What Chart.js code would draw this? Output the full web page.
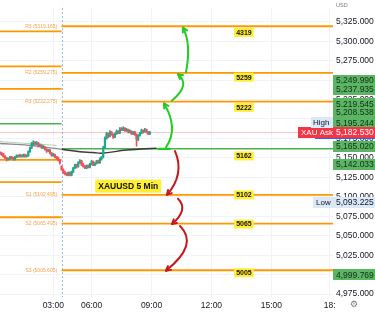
<!DOCTYPE html>
<html><head><meta charset="utf-8">
<script src="https://cdn.jsdelivr.net/npm/chart.js@4.4.1/dist/chart.umd.min.js"></script>
<style>html,body{margin:0;padding:0;background:#fff;}#wrap{width:375px;height:314px;position:relative;}</style>
</head><body><div id="wrap"><canvas id="c" width="375" height="314"></canvas></div>
<script>
// ---- data (5-min bars, index 0..90) ----
const opens  = [5157,5156,5155,5152,5150,5148,5149,5151,5150,5148,5151,5153,5152,5153,5152,5154,5152,5153,5158,5163,5168,5170,5168,5169,5165,5166,5163,5164,5161,5159,5160,5156,5153,5154,5151,5150,5147,
                5139,5135,5131,5130,5128,5131,5128,5132,5137,5141,5139,5144,5146,5141,5139,5137,5140,5138,5142,5145,5141,5143,5146,5144,5149,5151,5163,5175,5181,5178,5183,5180,5177,5181,5184,5182,5187,5186,5188,5185,5186,5183,5184,5181,5183,5180,5174,5179,5182,5185,5184,5186,5183,5181];
const highs  = [5158,5157,5156,5153,5151,5150,5152,5152,5151,5152,5154,5154,5155,5154,5155,5155,5154,5159,5164,5170,5172,5171,5171,5170,5168,5167,5166,5165,5162,5161,5161,5157,5156,5155,5152,5151,5148,
                5140,5136,5133,5131,5132,5132,5133,5138,5142,5142,5145,5148,5147,5143,5140,5141,5141,5143,5147,5146,5144,5147,5147,5150,5152,5165,5177,5183,5182,5185,5184,5181,5182,5186,5185,5189,5189,5190,5189,5188,5187,5186,5185,5184,5184,5181,5180,5183,5187,5186,5188,5187,5184,5184];
const lows   = [5154,5153,5151,5149,5146,5147,5148,5149,5147,5147,5150,5151,5151,5151,5151,5151,5151,5152,5157,5162,5166,5166,5167,5164,5164,5162,5162,5160,5157,5158,5155,5152,5152,5150,5148,5146,5142,
                5134,5130,5128,5127,5127,5127,5127,5131,5136,5137,5138,5143,5140,5138,5136,5136,5137,5137,5141,5140,5140,5142,5143,5143,5147,5150,5162,5174,5176,5177,5179,5175,5176,5180,5181,5181,5185,5185,5184,5184,5182,5182,5180,5180,5179,5165,5172,5178,5181,5182,5183,5182,5180,5180];
const closes = [5156,5155,5152,5150,5148,5149,5151,5150,5148,5151,5153,5152,5153,5152,5154,5152,5153,5158,5163,5168,5170,5168,5169,5165,5166,5163,5164,5161,5159,5160,5156,5153,5154,5151,5150,5147,5144,
                5135,5131,5130,5128,5131,5128,5132,5137,5141,5139,5144,5146,5141,5139,5137,5140,5138,5142,5145,5141,5143,5146,5144,5149,5151,5163,5175,5181,5178,5183,5180,5177,5181,5184,5182,5187,5186,5188,5185,5186,5183,5184,5181,5183,5180,5174,5179,5182,5185,5184,5186,5183,5181,5182.5];

const timeTickBars   = [32, 55, 91, 127, 163, 198];
const timeTickLabels = ['03:00','06:00','09:00','12:00','15:00','18:'];
const priceTicks = [4975,5000,5025,5050,5075,5100,5125,5150,5175,5200,5225,5250,5275,5300,5325];

// pivot levels of the current session
const pivotNames  = ['R3','R2','R1','P','S1','S2','S3'];
const pivotValues = [5319.165,5259.275,5222.275,5161.7,5102.495,5065.495,5005.605];
// pivot levels of the previous session
const prevPivotValues = [5312.5,5267.5,5238.75,5193.75,5147.5,5118.75,5073.75];

// moving averages (bar, price)
const maPrevBars = [0,18,37];            const maPrevValues = [5168.5,5166,5161];
const maCurBars  = [37,48,56,61,76,94];  const maCurValues  = [5161,5158,5157,5156,5160,5162.5];
const emaBars    = [0,10,20,28,34];      const emaValues    = [5171,5169.5,5168,5167,5166];

const askPrice = 5182.530;
const greenTagValues = [5249.990,5237.935,5219.545,5208.538,5195.244,5165.020,5142.033,4999.769];
const highValue = 5195.244;
const lowValue  = 5093.225;

// hand-drawn annotations
const yellowLabelTexts  = ['4319','5259','5222','5162','5102','5065','5005'];
const yellowLabelPrices = [5311.25,5253.75,5215,5152.5,5102.5,5065,5002.5];
const titleText = 'XAUUSD 5 Min';
const greenArrows = [
  [99.7,5163.75,103.3,5190,98.5,5220],
  [103.3,5223.75,109.9,5242.5,106.9,5257.5],
  [111.7,5260,112.9,5292.5,109.9,5317.5]
];
const redArrows = [
  [105.1,5158.75,106.9,5130,100.3,5102.5],
  [106.9,5097.5,109.3,5082.5,103.3,5065],
  [108.1,5062.5,111.7,5036.25,99.7,5005]
];

// ---- config ----
const sessionBreakBar = 37;
const xMax = 200;
const yMax = 5342.5, yMin = 4971.25;
const FONT = '"Liberation Sans", Arial, sans-serif';
const ORANGE = '#ff9800', PGREEN = '#4caf50';
const UP = '#1ea88c', DOWN = '#f0505c';

const fmt = v => { const s = v.toFixed(3); const p = s.split('.'); return p[0].replace(/\B(?=(\d{3})+(?!\d))/g, ',') + '.' + p[1]; };

const candleColors = opens.map((o,i) => closes[i] >= o ? UP : DOWN);
const datasets = [];

datasets.push({type:'bar', data: lows.map((l,i)=>({x:i, y:[l, highs[i]]})), backgroundColor:candleColors,
  barThickness:1, grouped:false, borderWidth:0, order:1});
datasets.push({type:'bar', data: opens.map((o,i)=>({x:i, y:[o, closes[i]]})), backgroundColor:candleColors,
  barThickness:1.5, grouped:false, borderWidth:0, minBarLength:1, order:0});

pivotValues.forEach((v,i) => datasets.push({type:'line', data:[{x:sessionBreakBar,y:v},{x:xMax,y:v}],
  borderColor: pivotNames[i]==='P' ? PGREEN : ORANGE, borderWidth: pivotNames[i]==='P'?1.5:1.8, pointRadius:0, order:5}));
prevPivotValues.forEach((v,i) => datasets.push({type:'line', data:[{x:0,y:v},{x:sessionBreakBar,y:v}],
  borderColor: i===3 ? PGREEN : ORANGE, borderWidth: i===3?1.5:1.8, pointRadius:0, order:5}));
datasets.push({type:'line', data:[{x:0,y:askPrice},{x:xMax,y:askPrice}], borderColor:'rgba(242,54,69,0.3)', borderWidth:1, pointRadius:0, order:6});
datasets.push({type:'line', data: emaBars.map((b,i)=>({x:b,y:emaValues[i]})), borderColor:'rgba(110,175,110,0.55)', borderWidth:1, pointRadius:0, tension:0.4, order:3});
datasets.push({type:'line', data: maPrevBars.map((b,i)=>({x:b,y:maPrevValues[i]})), borderColor:'#8a8a8a', borderWidth:1.3, pointRadius:0, tension:0.4, order:3});
datasets.push({type:'line', data: maCurBars.map((b,i)=>({x:b,y:maCurValues[i]})), borderColor:'#3a3a3a', borderWidth:1.5, pointRadius:0, tension:0.4, order:3});

function drawArrow(ctx, x, y, a, color){
  const S={x:x.getPixelForValue(a[0]), y:y.getPixelForValue(a[1])};
  const M={x:x.getPixelForValue(a[2]), y:y.getPixelForValue(a[3])};
  const E={x:x.getPixelForValue(a[4]), y:y.getPixelForValue(a[5])};
  const C={x:2*M.x-(S.x+E.x)/2, y:2*M.y-(S.y+E.y)/2};
  ctx.save(); ctx.strokeStyle=color; ctx.lineWidth=2; ctx.lineCap='round'; ctx.lineJoin='round';
  ctx.beginPath(); ctx.moveTo(S.x,S.y); ctx.quadraticCurveTo(C.x,C.y,E.x,E.y); ctx.stroke();
  const ang=Math.atan2(E.y-C.y,E.x-C.x), L=5;
  ctx.beginPath();
  ctx.moveTo(E.x-L*Math.cos(ang-0.5), E.y-L*Math.sin(ang-0.5)); ctx.lineTo(E.x,E.y);
  ctx.lineTo(E.x-L*Math.cos(ang+0.5), E.y-L*Math.sin(ang+0.5)); ctx.stroke();
  ctx.restore();
}
function tag(ctx, x0, x1, cy, h, bg, fg, text, bold){
  ctx.fillStyle=bg; ctx.fillRect(x0, Math.round(cy-h/2), x1-x0, h);
  ctx.fillStyle=fg; ctx.font=(bold?'bold ':'')+'8.5px '+FONT; ctx.textAlign='left'; ctx.textBaseline='middle';
  ctx.fillText(text, x0+3, cy+0.5);
}

const overlay = {
  id:'overlay',
  beforeDatasetsDraw(chart){
    const {ctx, chartArea:a, scales:{x}} = chart;
    const px = Math.round(x.getPixelForValue(sessionBreakBar))+0.5;
    ctx.save(); ctx.strokeStyle='#8fb8e8'; ctx.setLineDash([2,2]); ctx.lineWidth=1;
    ctx.beginPath(); ctx.moveTo(px,a.top); ctx.lineTo(px,a.bottom); ctx.stroke(); ctx.restore();
  },
  afterDatasetsDraw(chart){
    const {ctx, scales:{x,y}} = chart;
    // small pivot labels
    ctx.save(); ctx.font='5px '+FONT; ctx.fillStyle='#f5a14a'; ctx.textAlign='right'; ctx.textBaseline='middle';
    pivotNames.forEach((n,i)=>{ if(n==='P') return;
      ctx.fillText(n+' ('+pivotValues[i].toFixed(3)+')', x.getPixelForValue(34.3), y.getPixelForValue(pivotValues[i])); });
    ctx.restore();
    // green base stroke
    ctx.save(); ctx.strokeStyle='#22cc22'; ctx.lineWidth=2.2; ctx.lineCap='round';
    const by=y.getPixelForValue(pivotValues[3]);
    ctx.beginPath(); ctx.moveTo(x.getPixelForValue(95),by); ctx.lineTo(x.getPixelForValue(102),by); ctx.stroke(); ctx.restore();
    greenArrows.forEach(a=>drawArrow(ctx,x,y,a,'#22cc22'));
    redArrows.forEach(a=>drawArrow(ctx,x,y,a,'#c8161e'));
    // yellow labels
    ctx.save(); ctx.font='bold 7px '+FONT; ctx.textAlign='center'; ctx.textBaseline='middle';
    yellowLabelTexts.forEach((t,i)=>{
      const cx=x.getPixelForValue(146.5), cy=y.getPixelForValue(yellowLabelPrices[i]);
      const w=ctx.measureText(t).width+4;
      ctx.fillStyle='#ffee33'; ctx.fillRect(cx-w/2, cy-4.5, w, 9);
      ctx.fillStyle='#111'; ctx.fillText(t, cx, cy+0.5);
    });
    ctx.font='bold 8.5px '+FONT;
    const tx=x.getPixelForValue(77), ty=y.getPixelForValue(5113.75);
    const tw=ctx.measureText(titleText).width+6;
    ctx.fillStyle='#ffee33'; ctx.fillRect(tx-tw/2, ty-6.5, tw, 13);
    ctx.fillStyle='#111'; ctx.fillText(titleText, tx, ty+0.5);
    ctx.restore();
  },
  afterDraw(chart){
    const {ctx, chartArea:a, scales:{y}} = chart;
    const x0=a.right, x1=chart.width, h=11;
    ctx.save();
    greenTagValues.forEach(v=>tag(ctx,x0,x1,y.getPixelForValue(v),h,'#5cb563','#10301a',fmt(v)));
    // ask
    const ay=y.getPixelForValue(askPrice);
    tag(ctx,x0,x1,ay,h,'#f23645','#ffffff',fmt(askPrice));
    ctx.fillStyle='#f23645'; ctx.fillRect(x0-35, Math.round(ay-h/2), 35, h);
    ctx.fillStyle='#fff'; ctx.font='8px '+FONT; ctx.textAlign='left'; ctx.textBaseline='middle';
    ctx.fillText('XAU Ask', x0-32, ay+0.5);
    ctx.fillStyle='#2962ff'; ctx.fillRect(x0-18, Math.round(ay+h/2), x1-x0+18, 1);
    // high
    const hy=y.getPixelForValue(highValue);
    ctx.fillStyle='#dbe8f7'; ctx.fillRect(x0-22, Math.round(hy-h/2), 22, h);
    ctx.fillStyle='#131722'; ctx.fillText('High', x0-20, hy+0.5);
    // low
    const ly=y.getPixelForValue(lowValue);
    tag(ctx,x0,x1,ly,h,'#dbe8f7','#131722',fmt(lowValue));
    ctx.fillStyle='#dbe8f7'; ctx.fillRect(x0-20, Math.round(ly-h/2), 20, h);
    ctx.fillStyle='#131722'; ctx.font='8px '+FONT; ctx.fillText('Low', x0-17, ly+0.5);
    // header + gear
    ctx.fillStyle='#787b86'; ctx.font='5.5px '+FONT; ctx.fillText('USD', x0+3, 5);
    ctx.font='9px "DejaVu Sans"'; ctx.textAlign='center'; ctx.fillText('\u2699', 354, 305);
    ctx.restore();
  }
};

new Chart(document.getElementById('c'), {
  type:'bar',
  data:{datasets},
  plugins:[overlay],
  options:{
    responsive:false, animation:false, devicePixelRatio:1,
    layout:{padding:0},
    plugins:{legend:{display:false}, tooltip:{enabled:false}},
    scales:{
      x:{type:'linear', min:0, max:xMax, offset:false,
        grid:{color:'#f0f3fa', drawTicks:false, offset:false}, border:{display:false},
        afterBuildTicks:s=>{ s.ticks = timeTickBars.map(v=>({value:v})); },
        ticks:{autoSkip:false, maxRotation:0, padding:4, color:'#131722', font:{family:FONT, size:8.5},
          callback:(v,i)=>timeTickLabels[i]},
        afterFit:s=>{ s.height = 17; }
      },
      y:{type:'linear', position:'right', min:yMin, max:yMax,
        grid:{color:'#f0f3fa', drawTicks:false}, border:{display:false},
        afterBuildTicks:s=>{ s.ticks = priceTicks.map(v=>({value:v})); },
        ticks:{padding:3, color:'#131722', font:{family:FONT, size:8.5}, callback:v=>fmt(v)},
        afterFit:s=>{ s.width = 42; }
      }
    }
  }
});
</script></body></html>
